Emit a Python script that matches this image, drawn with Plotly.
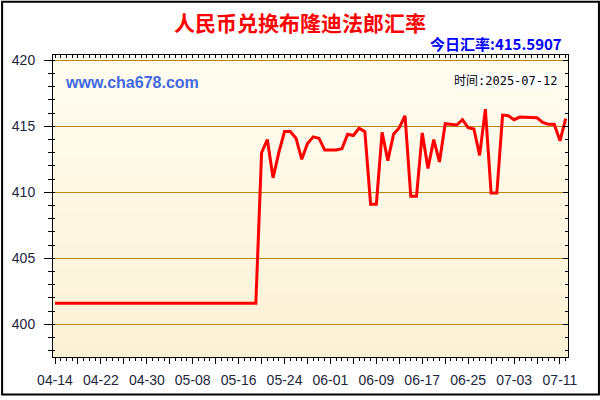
import base64
import struct
import zlib

import pandas as pd
import plotly.graph_objects as go

# ---------------- data ----------------
START_DATE = "2025-04-14"
RATES = [
    401.6, 401.6, 401.6, 401.6, 401.6, 401.6, 401.6, 401.6, 401.6, 401.6,
    401.6, 401.6, 401.6, 401.6, 401.6, 401.6, 401.6, 401.6, 401.6, 401.6,
    401.6, 401.6, 401.6, 401.6, 401.6, 401.6, 401.6, 401.6, 401.6, 401.6,
    401.6, 401.6, 401.6, 401.6, 401.6, 401.6,
    413.0, 414.0, 411.1, 413.0, 414.6, 414.6, 414.1, 412.5, 413.7, 414.2,
    414.1, 413.2, 413.2, 413.2, 413.3, 414.4, 414.3, 414.85, 414.6, 409.1,
    409.1, 414.55, 412.4, 414.4, 414.9, 415.8, 409.7, 409.7, 414.5, 411.8,
    414.0, 412.3, 415.2, 415.15, 415.1, 415.5, 414.9, 414.8, 412.8, 416.3,
    409.95, 409.95, 415.85, 415.8, 415.5, 415.7, 415.7, 415.7, 415.65, 415.3,
    415.15, 415.15, 413.9, 415.5907,
]
DATES = pd.date_range(START_DATE, periods=len(RATES), freq="D")

TICK_LABELS = ["04-14", "04-22", "04-30", "05-08", "05-16", "05-24",
               "06-01", "06-09", "06-17", "06-25", "07-03", "07-11"]
Y_TICKS = [400, 405, 410, 415, 420]

TITLE = "人民币兑换布隆迪法郎汇率"
TODAY_TEXT = "今日汇率:415.5907"
SITE_TEXT = "www.cha678.com"
TIME_TEXT = "时间:2025-07-12"

# ---------------- layout geometry ----------------
W, H = 600, 400
ML, MR, MT, MB = 52, 32, 55, 39
PW, PH = W - ML - MR, H - MT - MB

X_RANGE = ["2025-04-13 15:36", "2025-07-12 09:36"]
Y_RANGE = [397.53, 420.40]


def px_x(px):
    return (px - ML) / PW


def px_y(py):
    return (H - MB - py) / PH


# major ticks every 4 days, labels every 8 days
tick_vals = pd.date_range(START_DATE, periods=2 * len(TICK_LABELS), freq="4D")
tick_text = []
for lab in TICK_LABELS:
    tick_text += [lab, ""]


# ---------------- gradient background (PNG data URI) ----------------
def gradient_png(top, bottom, h=256):
    rows = b""
    for i in range(h):
        t = i / (h - 1)
        c = [round(top[k] + (bottom[k] - top[k]) * t) for k in range(3)]
        rows += b"\x00" + bytes(c)

    def chunk(tag, data):
        return (struct.pack(">I", len(data)) + tag + data +
                struct.pack(">I", zlib.crc32(tag + data) & 0xFFFFFFFF))

    png = b"\x89PNG\r\n\x1a\n"
    png += chunk(b"IHDR", struct.pack(">IIBBBBB", 1, h, 8, 2, 0, 0, 0))
    png += chunk(b"IDAT", zlib.compress(rows))
    png += chunk(b"IEND", b"")
    return "data:image/png;base64," + base64.b64encode(png).decode()


bg_uri = gradient_png((255, 253, 241), (252, 241, 213))

TICK_FONT = dict(family="Liberation Sans, Arial, sans-serif", size=14, color="#1c2640")
CJK = "Noto Sans CJK SC, sans-serif"

fig = go.Figure()
fig.add_trace(go.Scatter(
    x=DATES, y=RATES, mode="lines",
    line=dict(color="#ff0000", width=3),
    showlegend=False, hoverinfo="x+y",
))
# helpers so the overlay axes (top / right / inner-left ticks) are drawn
fig.add_trace(go.Scatter(x=[DATES[0]], y=[RATES[0]], xaxis="x2", yaxis="y2",
                         mode="markers", marker=dict(opacity=0),
                         showlegend=False, hoverinfo="skip"))
fig.add_trace(go.Scatter(x=[DATES[0]], y=[RATES[0]], xaxis="x", yaxis="y3",
                         mode="markers", marker=dict(opacity=0),
                         showlegend=False, hoverinfo="skip"))

fig.update_layout(
    width=W, height=H,
    margin=dict(l=ML, r=MR, t=MT, b=MB),
    paper_bgcolor="white",
    plot_bgcolor="rgba(0,0,0,0)",
    title=dict(text=TITLE, x=0.5, xref="container", xanchor="center",
               y=1 - 24 / H, yref="container", yanchor="middle",
               font=dict(family=CJK, size=21, color="#ff0000", weight="bold")),
    xaxis=dict(
        type="date", range=X_RANGE, tickvals=tick_vals, ticktext=tick_text,
        ticks="outside", ticklen=6, tickcolor="black", tickwidth=1,
        minor=dict(dtick=86400000, tick0=START_DATE, ticks="outside",
                   ticklen=3, tickcolor="black", showgrid=False),
        showline=True, linecolor="black", linewidth=1, showgrid=False,
        zeroline=False, tickfont=TICK_FONT, ticklabelstandoff=4,
    ),
    xaxis2=dict(
        type="date", range=X_RANGE, overlaying="x", side="top", anchor="y",
        ticks="inside", ticklen=3, tickcolor="black",
        dtick=86400000, tick0=START_DATE, showticklabels=False,
        showline=True, linecolor="black", linewidth=1, showgrid=False,
        zeroline=False,
    ),
    yaxis=dict(
        range=Y_RANGE, tickvals=Y_TICKS, ticks="outside", ticklen=8,
        tickcolor="black",
        minor=dict(dtick=1, tick0=400, ticks="outside", ticklen=4,
                   tickcolor="black", showgrid=False),
        showline=True, linecolor="black", linewidth=1,
        showgrid=True, gridcolor="#b8860b", gridwidth=1,
        zeroline=False, tickfont=TICK_FONT, ticklabelstandoff=6,
    ),
    yaxis2=dict(
        range=Y_RANGE, overlaying="y", side="right", anchor="x",
        tickvals=Y_TICKS, ticks="inside", ticklen=5, tickcolor="black",
        minor=dict(dtick=1, tick0=400, ticks="inside", ticklen=3,
                   tickcolor="black", showgrid=False),
        showticklabels=False, showline=True, linecolor="black", linewidth=1,
        showgrid=False, zeroline=False,
    ),
    yaxis3=dict(
        range=Y_RANGE, overlaying="y", side="left", anchor="x",
        dtick=1, tick0=400, ticks="inside", ticklen=2, tickcolor="black",
        showticklabels=False, showline=False, showgrid=False, zeroline=False,
    ),
    images=[dict(source=bg_uri, xref="paper", yref="paper", x=0, y=1,
                 sizex=1, sizey=1, sizing="stretch", layer="below",
                 xanchor="left", yanchor="top")],
    shapes=[dict(type="rect", xref="paper", yref="paper",
                 x0=px_x(1), x1=px_x(599), y0=px_y(399), y1=px_y(1),
                 line=dict(color="black", width=2), fillcolor="rgba(0,0,0,0)")],
    annotations=[
        dict(text=TODAY_TEXT, xref="paper", yref="paper",
             x=px_x(564), y=px_y(43), xanchor="right", yanchor="middle",
             showarrow=False,
             font=dict(family=CJK, size=15, color="#0000ff", weight="bold")),
        dict(text=SITE_TEXT, xref="paper", yref="paper",
             x=px_x(62), y=px_y(83), xanchor="left", yanchor="middle",
             showarrow=False,
             font=dict(family="Liberation Sans, Arial, sans-serif", size=16,
                       color="#4169e1", weight="bold")),
        dict(text=TIME_TEXT, xref="paper", yref="paper",
             x=px_x(558), y=px_y(81), xanchor="right", yanchor="middle",
             showarrow=False, bgcolor="white", borderpad=0,
             font=dict(family="DejaVu Sans Mono, Noto Sans CJK SC, monospace",
                       size=12, color="#000000")),
    ],
)

fig.write_html("out.html", config={"displayModeBar": False},
               post_script="document.body.style.margin='0px';")
